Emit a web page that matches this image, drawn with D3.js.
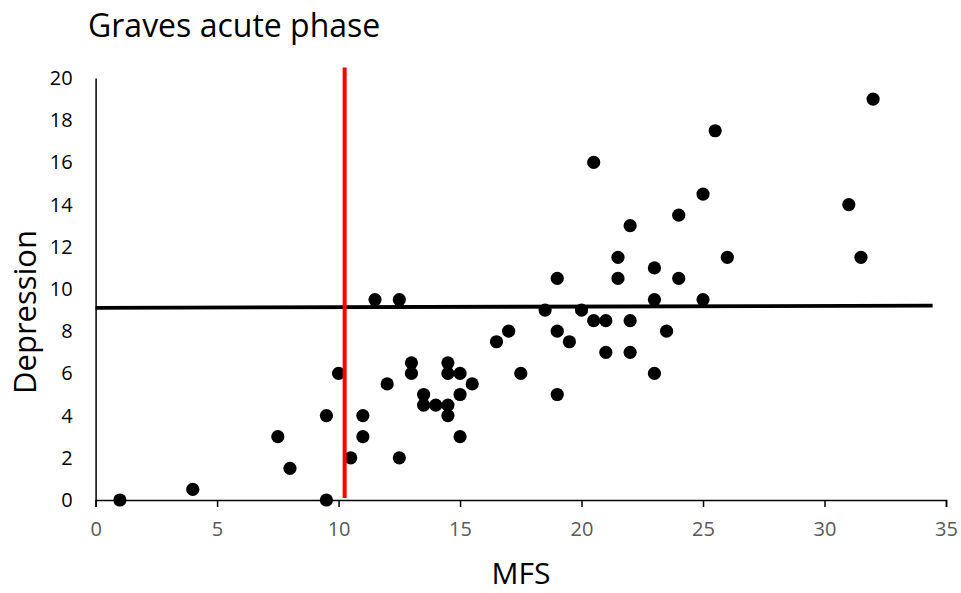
<!DOCTYPE html>
<html>
<head>
<meta charset="utf-8">
<script src="https://cdn.jsdelivr.net/npm/d3@7"></script>
<style>
    body { margin: 0; background: #fff; }
    text { font-family: "Open Sans", sans-serif; }
</style>
</head>
<body>
<svg id="chart"></svg>
<script>
// MFS score and depression score for each patient
const mfs = [1, 4, 7.5, 8, 9.5, 9.5, 10, 10.5, 11, 11, 11.5, 12.5, 12.5, 12, 13, 13, 13.5, 13.5, 14, 14.5,
    14.5, 14.5, 14.5, 15, 15, 15, 15.5, 16.5, 17, 17.5, 18.5, 19, 19, 19, 19.5, 20, 20.5, 21, 21, 21.5,
    22, 22, 23, 23, 32, 25.5, 20.5, 25, 31, 24, 22, 21.5, 26, 31.5, 23, 24, 25, 23.5];
const depression = [0, 0.5, 3, 1.5, 4, 0, 6, 2, 4, 3, 9.5, 9.5, 2, 5.5, 6.5, 6, 5, 4.5, 4.5, 4.5,
    4, 6.5, 6, 6, 5, 3, 5.5, 7.5, 8, 6, 9, 10.5, 8, 5, 7.5, 9, 8.5, 8.5, 7, 10.5,
    8.5, 7, 9.5, 6, 19, 17.5, 16, 14.5, 14, 13.5, 13, 11.5, 11.5, 11.5, 11, 10.5, 9.5, 8];

// cut-off lines drawn on top of the scatter
const redLineX = [10.25, 10.25];
const redLineY = [0.1, 20.5];
const blackLineX = [0, 34.45];
const blackLineY = [9.11, 9.21];

const xTicks = [0, 5, 10, 15, 20, 25, 30, 35];
const yTicks = [0, 2, 4, 6, 8, 10, 12, 14, 16, 18, 20];

const width = 961;
const height = 593;
const margin = { top: 78, right: 15, bottom: 93, left: 95.6 };
const boundedWidth = width - margin.left - margin.right;
const boundedHeight = height - margin.top - margin.bottom;

const svg = d3.select('#chart')
    .attr('width', width)
    .attr('height', height);

const bounds = svg.append('g')
    .attr('transform', `translate(${margin.left}, ${margin.top})`);

const xScale = d3.scaleLinear().domain([0, 35]).range([0, boundedWidth]);
const yScale = d3.scaleLinear().domain([0, 20]).range([boundedHeight, 0]);

// x axis: ticks pointing down, grey labels
const xAxisG = bounds.append('g')
    .attr('transform', `translate(0, ${boundedHeight})`)
    .call(d3.axisBottom(xScale).tickValues(xTicks).tickSize(7).tickSizeOuter(7).tickPadding(15));
xAxisG.select('.domain').attr('stroke', '#000').attr('stroke-width', 1.5);
xAxisG.selectAll('.tick line').attr('stroke', '#000').attr('stroke-width', 1.5);
xAxisG.selectAll('.tick text')
    .attr('fill', '#595959')
    .style('font-size', '20px');

// y axis: no tick marks
const yAxisG = bounds.append('g')
    .call(d3.axisLeft(yScale).tickValues(yTicks).tickSize(0).tickPadding(23));
yAxisG.select('.domain').attr('stroke', '#000').attr('stroke-width', 1.5);
yAxisG.selectAll('.tick text')
    .attr('fill', '#000')
    .style('font-size', '20px');

// points
const points = d3.range(mfs.length).map(i => ({ x: mfs[i], y: depression[i] }));
bounds.append('g')
    .selectAll('circle')
    .data(points)
    .join('circle')
    .attr('cx', d => xScale(d.x))
    .attr('cy', d => yScale(d.y))
    .attr('r', 6.6)
    .attr('fill', '#000');

const line = d3.line()
    .x(d => xScale(d[0]))
    .y(d => yScale(d[1]));

bounds.append('path')
    .datum(d3.zip(blackLineX, blackLineY))
    .attr('d', line)
    .attr('fill', 'none')
    .attr('stroke', '#000')
    .attr('stroke-width', 3.8);

bounds.append('path')
    .datum(d3.zip(redLineX, redLineY))
    .attr('d', line)
    .attr('fill', 'none')
    .attr('stroke', '#ff0000')
    .attr('stroke-width', 4);

// titles
svg.append('text')
    .attr('x', 88)
    .attr('y', 37)
    .style('font-size', '32px')
    .attr('fill', '#000')
    .text('Graves acute phase');

svg.append('text')
    .attr('x', 521)
    .attr('y', 584)
    .attr('text-anchor', 'middle')
    .style('font-size', '30px')
    .attr('fill', '#000')
    .text('MFS');

svg.append('text')
    .attr('transform', 'translate(36, 312) rotate(-90)')
    .attr('text-anchor', 'middle')
    .style('font-size', '31px')
    .attr('fill', '#000')
    .text('Depression');
</script>
</body>
</html>
